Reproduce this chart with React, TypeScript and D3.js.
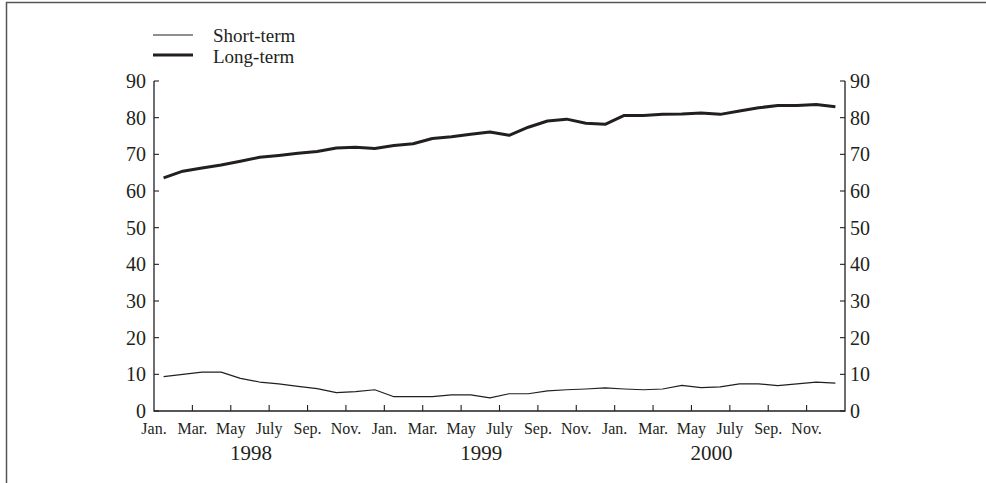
import { useEffect, useRef } from "react";
import * as d3 from "d3";

// monthly values, Jan. 1998 – Dec. 2000
const MONTHS = ["Jan.", "Mar.", "May", "July", "Sep.", "Nov."];
const YEARS = ["1998", "1999", "2000"];
const Y_TICKS = [0, 10, 20, 30, 40, 50, 60, 70, 80, 90];

const shortTerm = [
  9.4, 10.0, 10.6, 10.6, 8.9, 7.9, 7.4, 6.7, 6.1, 5.0, 5.3, 5.8,
  3.9, 3.9, 3.9, 4.4, 4.4, 3.6, 4.7, 4.7, 5.5, 5.8, 6.0, 6.3,
  6.0, 5.8, 6.0, 7.0, 6.4, 6.6, 7.4, 7.4, 6.9, 7.4, 7.9, 7.6,
];

const longTerm = [
  63.6, 65.4, 66.3, 67.1, 68.1, 69.2, 69.7, 70.3, 70.8, 71.7, 71.9, 71.6,
  72.4, 72.9, 74.3, 74.8, 75.5, 76.1, 75.2, 77.4, 79.1, 79.6, 78.5, 78.2,
  80.6, 80.6, 80.9, 81.0, 81.3, 80.9, 81.8, 82.7, 83.3, 83.3, 83.6, 83.0,
];

const SERIES = [
  { label: "Short-term", values: shortTerm, width: 1.2 },
  { label: "Long-term", values: longTerm, width: 3 },
];

const INK = "#231f20";
const FONT = "'Liberation Serif', 'Times New Roman', serif";

export default function App() {
  const ref = useRef<SVGSVGElement>(null);

  useEffect(() => {
    if (!ref.current) return;
    const W = 986, H = 483;
    const left = 154, right = 845, top = 81, bottom = 411;

    const svg = d3.select(ref.current);
    svg.selectAll("*").remove();
    svg.attr("width", W).attr("height", H);

    // frame (top + left edge)
    svg.append("path")
      .attr("d", `M6.5,${H} V2.5 H${W}`)
      .attr("fill", "none").attr("stroke", "#555").attr("stroke-width", 1.5);

    const n = shortTerm.length;
    const x = d3.scaleLinear().domain([0, n]).range([left, right]);
    const y = d3.scaleLinear().domain([0, 90]).range([bottom, top]);

    const g = svg.append("g").style("font-family", FONT).attr("fill", INK);

    // axes frame: left, bottom, right
    g.append("path")
      .attr("d", `M${left},${y(90)} V${y(0)} H${right} V${y(90)}`)
      .attr("fill", "none").attr("stroke", INK).attr("stroke-width", 1.3);

    // y ticks both sides, pointing inward
    Y_TICKS.forEach(v => {
      g.append("line")
        .attr("x1", left).attr("x2", left + 5)
        .attr("y1", y(v)).attr("y2", y(v))
        .attr("stroke", INK).attr("stroke-width", 1.1);
      g.append("line")
        .attr("x1", right).attr("x2", right - 5)
        .attr("y1", y(v)).attr("y2", y(v))
        .attr("stroke", INK).attr("stroke-width", 1.1);
      g.append("text")
        .attr("x", left - 8).attr("y", y(v)).attr("dy", "0.35em")
        .attr("text-anchor", "end").style("font-size", "20px")
        .text(v);
      g.append("text")
        .attr("x", right + 5).attr("y", y(v)).attr("dy", "0.35em")
        .style("font-size", "20px")
        .text(v);
    });

    // month ticks every 2 months, labels at ticks
    d3.range(0, n, 2).forEach(i => {
      if (i > 0) {
        g.append("line")
          .attr("x1", x(i)).attr("x2", x(i))
          .attr("y1", bottom).attr("y2", bottom - 6)
          .attr("stroke", INK).attr("stroke-width", 1.1);
      }
      g.append("text")
        .attr("x", x(i)).attr("y", 434)
        .attr("text-anchor", "middle").style("font-size", "16px")
        .text(MONTHS[(i / 2) % 6]);
    });

    YEARS.forEach((yr, k) => {
      g.append("text")
        .attr("x", x(k * 12 + 5.05)).attr("y", 460)
        .attr("text-anchor", "middle").style("font-size", "21px")
        .text(yr);
    });

    // lines, points at mid-month
    SERIES.forEach(s => {
      const line = d3.line<number>()
        .x((_, i) => x(i + 0.5))
        .y(d => y(d));
      g.append("path")
        .datum(s.values)
        .attr("d", line)
        .attr("fill", "none")
        .attr("stroke", INK)
        .attr("stroke-width", s.width)
        .attr("stroke-linejoin", "round");
    });

    // legend
    SERIES.forEach((s, k) => {
      const ly = 35 + k * 20;
      g.append("line")
        .attr("x1", 153).attr("x2", 193)
        .attr("y1", ly).attr("y2", ly)
        .attr("stroke", INK).attr("stroke-width", s.width);
      g.append("text")
        .attr("x", 213).attr("y", 42 + k * 21)
        .style("font-size", "19px")
        .text(s.label);
    });
  }, []);

  return (
    <svg ref={ref} style={{ position: "absolute", left: 0, top: 0, display: "block", background: "#fff" }} />
  );
}
